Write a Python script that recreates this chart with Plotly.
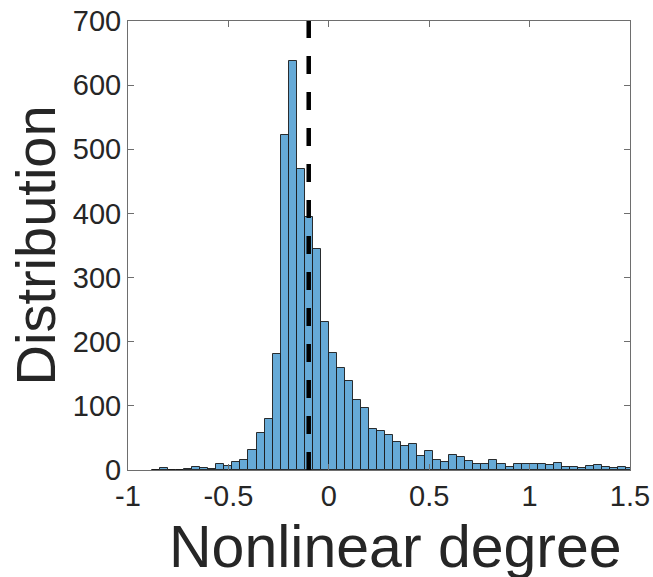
import numpy as np
import plotly.graph_objects as go

# histogram bins (left edges, width 0.04) and counts
bin_width = 0.04
bin_left = np.round(np.arange(-0.88, 1.50, bin_width), 2)
counts = [
    0, 3, 0, 0, 1, 4, 3, 1, 9, 7,
    12, 15, 31, 57, 80, 181, 523, 637, 469, 395,
    345, 231, 183, 159, 139, 109, 96, 64, 61, 54,
    44, 37, 40, 22, 29, 15, 13, 24, 21, 14,
    9, 9, 15, 9, 5, 10, 10, 10, 10, 8,
    11, 5, 4, 3, 6, 8, 5, 3, 5, 3,
]
threshold = -0.1

x_ticks = [-1, -0.5, 0, 0.5, 1, 1.5]
x_ticktext = ["-1", "-0.5", "0", "0.5", "1", "1.5"]
y_ticks = [0, 100, 200, 300, 400, 500, 600, 700]

FONT = "Liberation Sans, Arial, sans-serif"
TEXT = "#262626"
AXIS_COLOR = "#6e6e6e"

fig = go.Figure()
fig.add_trace(go.Bar(
    x=bin_left + bin_width / 2,
    y=counts,
    width=bin_width,
    marker=dict(color="rgb(102,170,215)", line=dict(color="rgba(25,25,25,0.9)", width=1)),
    showlegend=False,
))

# median marker
fig.add_trace(go.Scatter(
    x=[threshold, threshold],
    y=[0, 700],
    mode="lines",
    line=dict(color="black", width=4.5, dash="18px,18px"),
    showlegend=False,
))

axis_common = dict(
    showline=True, linecolor=AXIS_COLOR, linewidth=1, mirror="ticks",
    ticks="inside", ticklen=6, tickcolor=AXIS_COLOR,
    showgrid=False, zeroline=False, automargin=False,
    tickfont=dict(family=FONT, size=29, color=TEXT),
)

fig.update_layout(
    width=653, height=577,
    paper_bgcolor="white", plot_bgcolor="white",
    margin=dict(l=128, r=23, t=21, b=107),
    bargap=0,
    xaxis=dict(**axis_common, range=[-1, 1.5], tickvals=x_ticks, ticktext=x_ticktext),
    yaxis=dict(**axis_common, range=[0, 700], tickvals=y_ticks),
    annotations=[
        dict(text="Nonlinear degree", xref="paper", yref="paper", x=0.532, y=0,
             xanchor="center", yanchor="middle", yshift=-77, showarrow=False,
             font=dict(family=FONT, size=59, color=TEXT)),
        dict(text="Distribution", xref="paper", yref="paper", x=0, y=0.5,
             xanchor="center", yanchor="middle", xshift=-93, textangle=-90, showarrow=False,
             font=dict(family=FONT, size=56, color=TEXT)),
    ],
)

# drop the browser's default 8px body margin so the figure sits at the page corner
fig.write_html(
    "out.html",
    config={"displayModeBar": False},
    post_script="document.body.style.margin = '0';",
)
